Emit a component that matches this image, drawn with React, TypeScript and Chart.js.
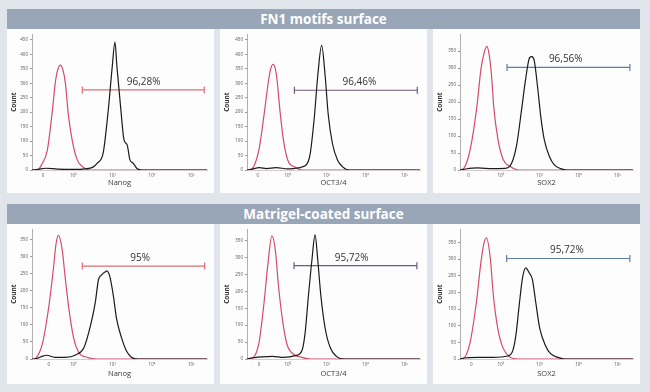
import React, { useEffect, useRef } from "react";
import { Chart, registerables } from "chart.js";
Chart.register(...registerables);

// ---- shared axis labels ----
const xTickLabels = ["0", "10²", "10³", "10⁴", "10⁵"];
const yTicksTall = [0, 50, 100, 150, 200, 250, 300, 350, 400, 450];
const yTicksShort = [0, 50, 100, 150, 200, 250, 300, 350];
const headerTitles = ["FN1 motifs surface", "Matrigel-coated surface"];
const markerNames = ["Nanog", "OCT3/4", "SOX2"];

// ---- FN1 motifs surface: Nanog ----
const fnNanogRedX = [0.95, 1.09, 1.2, 1.34, 1.47, 1.54, 1.6, 1.67, 1.74, 1.8, 1.87, 1.97, 2.1, 2.25, 2.43, 5.4];
const fnNanogRedY = [0, 0, 20, 69, 208, 300, 345, 363, 345, 300, 197, 104, 35, 10, 0, 0];
const fnNanogBlkX = [0.95, 1.1, 1.3, 1.6, 2.0, 2.3, 2.5, 2.61, 2.76, 2.89, 2.99, 3.06, 3.11, 3.21, 3.29, 3.37, 3.44, 3.52, 3.62, 3.75, 5.4];
const fnNanogBlkY = [0, 2, 6, 3, 2, 4, 10, 24, 59, 208, 357, 443, 357, 208, 104, 87, 35, 24, 5, 0, 0];
const fnNanogGate = [2.23, 5.33, 277, 3.79];

// ---- FN1 motifs surface: OCT3/4 ----
const fnOctRedX = [0.95, 1.02, 1.15, 1.27, 1.4, 1.51, 1.57, 1.62, 1.67, 1.72, 1.8, 1.89, 2.0, 2.17, 2.38, 5.4];
const fnOctRedY = [0, 0, 20, 79, 203, 315, 355, 366, 355, 315, 203, 101, 34, 11, 0, 0];
const fnOctBlkX = [0.95, 1.05, 1.27, 1.45, 1.7, 2.0, 2.2, 2.38, 2.56, 2.68, 2.77, 2.87, 2.96, 3.04, 3.15, 3.28, 3.41, 3.58, 5.4];
const fnOctBlkY = [0, 2, 8, 5, 8, 4, 6, 11, 45, 180, 326, 431, 326, 191, 90, 34, 11, 0, 0];
const fnOctGate = [2.17, 5.33, 276, 3.84];

// ---- FN1 motifs surface: SOX2 ----
const fnSoxRedX = [0.95, 1.05, 1.21, 1.38, 1.49, 1.57, 1.64, 1.7, 1.76, 1.82, 1.93, 2.06, 2.23, 2.48, 5.4];
const fnSoxRedY = [0, 5, 59, 183, 298, 345, 364, 340, 280, 183, 88, 31, 11, 0, 0];
const fnSoxBlkX = [0.95, 1.1, 1.4, 1.8, 2.1, 2.23, 2.4, 2.53, 2.64, 2.74, 2.8, 2.86, 2.95, 3.03, 3.12, 3.25, 3.37, 3.54, 3.7, 5.4];
const fnSoxBlkY = [0, 3, 6, 4, 5, 11, 69, 174, 269, 331, 334, 322, 240, 155, 88, 40, 16, 4, 0, 0];
const fnSoxGate = [2.16, 5.32, 302, 3.67];

// ---- Matrigel-coated surface: Nanog ----
const mgNanogRedX = [0.95, 0.98, 1.21, 1.38, 1.49, 1.56, 1.62, 1.71, 1.8, 1.9, 2.01, 2.14, 2.35, 2.6, 5.4];
const mgNanogRedY = [0, 0, 43, 156, 260, 336, 362, 326, 232, 137, 61, 19, 5, 0, 0];
const mgNanogBlkX = [0.95, 1.0, 1.24, 1.32, 1.53, 1.8, 2.06, 2.27, 2.44, 2.56, 2.64, 2.72, 2.81, 2.85, 2.93, 3.02, 3.1, 3.23, 3.35, 3.48, 3.65, 5.4];
const mgNanogBlkY = [0, 0, 9, 11, 5, 5, 12, 33, 99, 166, 232, 246, 255, 258, 241, 184, 118, 61, 24, 5, 0, 0];
const mgNanogGate = [2.23, 5.34, 272, 3.7];

// ---- Matrigel-coated surface: OCT3/4 ----
const mgOctRedX = [0.95, 1.0, 1.25, 1.38, 1.49, 1.59, 1.68, 1.76, 1.87, 1.98, 2.15, 2.36, 2.6, 5.4];
const mgOctRedY = [0, 0, 43, 158, 283, 364, 321, 216, 110, 43, 14, 5, 0, 0];
const mgOctBlkX = [0.95, 1.05, 1.3, 1.6, 1.9, 2.19, 2.36, 2.44, 2.53, 2.62, 2.7, 2.77, 2.85, 2.96, 3.09, 3.26, 3.45, 5.4];
const mgOctBlkY = [0, 3, 6, 8, 5, 10, 24, 72, 187, 293, 367, 293, 187, 91, 34, 7, 0, 0];
const mgOctGate = [2.16, 5.32, 276, 3.64];

// ---- Matrigel-coated surface: SOX2 ----
const mgSoxRedX = [0.95, 1.0, 1.2, 1.37, 1.48, 1.56, 1.63, 1.73, 1.81, 1.92, 2.05, 2.22, 2.45, 5.4];
const mgSoxRedY = [0, 0, 45, 169, 283, 345, 364, 302, 188, 93, 35, 7, 0, 0];
const mgSoxBlkX = [0.95, 1.05, 1.4, 1.8, 2.18, 2.31, 2.39, 2.47, 2.56, 2.64, 2.73, 2.81, 2.9, 3.0, 3.15, 3.28, 3.49, 3.65, 5.4];
const mgSoxBlkY = [0, 3, 5, 5, 9, 26, 73, 159, 245, 274, 259, 240, 169, 93, 40, 16, 4, 0, 0];
const mgSoxGate = [2.15, 5.32, 302, 3.7];

const gateLabels = ["96,28%", "96,46%", "96,56%", "95%", "95,72%", "95,72%"];
const zeroTickPos = [1.23, 1.23, 1.17, 1.38, 1.26, 1.24];
const yMaxes = [470, 470, 400, 380, 384, 390];
const gateColors = ["#dc6e74", "#6c5a80", "#5e7ea6"];

const RED = "#d44c68";
const BLACK = "#1b1b1b";
const FONT = "'Open Sans', 'Noto Sans', sans-serif";

type PanelDef = {
  redX: number[]; redY: number[]; blkX: number[]; blkY: number[];
  gate: number[]; label: string; zero: number; yMax: number; yTicks: number[];
  marker: string; gateColor: string;
};

const panels: PanelDef[][] = [
  [
    { redX: fnNanogRedX, redY: fnNanogRedY, blkX: fnNanogBlkX, blkY: fnNanogBlkY, gate: fnNanogGate, label: gateLabels[0], zero: zeroTickPos[0], yMax: yMaxes[0], yTicks: yTicksTall, marker: markerNames[0], gateColor: gateColors[0] },
    { redX: fnOctRedX, redY: fnOctRedY, blkX: fnOctBlkX, blkY: fnOctBlkY, gate: fnOctGate, label: gateLabels[1], zero: zeroTickPos[1], yMax: yMaxes[1], yTicks: yTicksTall, marker: markerNames[1], gateColor: gateColors[1] },
    { redX: fnSoxRedX, redY: fnSoxRedY, blkX: fnSoxBlkX, blkY: fnSoxBlkY, gate: fnSoxGate, label: gateLabels[2], zero: zeroTickPos[2], yMax: yMaxes[2], yTicks: yTicksShort, marker: markerNames[2], gateColor: gateColors[2] },
  ],
  [
    { redX: mgNanogRedX, redY: mgNanogRedY, blkX: mgNanogBlkX, blkY: mgNanogBlkY, gate: mgNanogGate, label: gateLabels[3], zero: zeroTickPos[3], yMax: yMaxes[3], yTicks: yTicksShort, marker: markerNames[0], gateColor: gateColors[0] },
    { redX: mgOctRedX, redY: mgOctRedY, blkX: mgOctBlkX, blkY: mgOctBlkY, gate: mgOctGate, label: gateLabels[4], zero: zeroTickPos[4], yMax: yMaxes[4], yTicks: yTicksShort, marker: markerNames[1], gateColor: gateColors[1] },
    { redX: mgSoxRedX, redY: mgSoxRedY, blkX: mgSoxBlkX, blkY: mgSoxBlkY, gate: mgSoxGate, label: gateLabels[5], zero: zeroTickPos[5], yMax: yMaxes[5], yTicks: yTicksShort, marker: markerNames[2], gateColor: gateColors[2] },
  ],
];

const zip = (xs: number[], ys: number[]) => xs.map((x, i) => ({ x, y: ys[i] }));

function HistPanel({ def, w, h, left, bottomAxisH, padBottom }: { def: PanelDef; w: number; h: number; left: number; bottomAxisH: number; padBottom: number }) {
  const ref = useRef<HTMLCanvasElement>(null);
  useEffect(() => {
    const xTickVals = [def.zero, 2, 3, 4, 5];
    const gateLabelPlugin = {
      id: "gateLabel",
      afterDatasetsDraw(chart: any) {
        const ctx = chart.ctx;
        const xs = chart.scales.x;
        const ys = chart.scales.y;
        ctx.save();
        ctx.font = `10px ${FONT}`;
        ctx.fillStyle = "#333";
        ctx.textAlign = "center";
        ctx.textBaseline = "bottom";
        ctx.fillText(def.label, xs.getPixelForValue(def.gate[3]), ys.getPixelForValue(def.gate[2]) - 3);
        ctx.restore();
      },
    };
    const chart = new Chart(ref.current!, {
      type: "line",
      data: {
        datasets: [
          { data: zip(def.blkX, def.blkY), borderColor: BLACK, borderWidth: 1.2, pointRadius: 0, cubicInterpolationMode: "monotone", fill: false },
          { data: zip(def.redX, def.redY), borderColor: RED, borderWidth: 1.2, pointRadius: 0, cubicInterpolationMode: "monotone", fill: false },
          {
            data: [{ x: def.gate[0], y: def.gate[2] }, { x: def.gate[1], y: def.gate[2] }],
            borderColor: def.gateColor, borderWidth: 1.2, pointStyle: "line", rotation: 90,
            pointRadius: 3.5, pointBorderWidth: 1.2, pointBorderColor: def.gateColor, tension: 0,
          },
        ],
      } as any,
      options: {
        animation: false,
        responsive: false,
        events: [],
        layout: { padding: { left: 1, right: 7, top: 2, bottom: padBottom } },
        plugins: { legend: { display: false }, tooltip: { enabled: false } },
        scales: {
          x: {
            type: "linear", min: 0.95, max: 5.4,
            grid: { display: false, drawTicks: false },
            border: { display: true, color: "#d9c9cc", width: 1 },
            afterBuildTicks: (s: any) => { s.ticks = xTickVals.map((v) => ({ value: v })); },
            afterFit: (s: any) => { s.height = bottomAxisH; },
            ticks: {
              autoSkip: false, maxRotation: 0, padding: 3, color: "#555",
              font: { size: 4.5, family: FONT },
              callback: (_v: any, i: number) => xTickLabels[i],
            },
            title: { display: true, text: def.marker, color: "#3a3a3a", font: { size: 7.5, family: FONT }, padding: 0 },
          },
          y: {
            type: "linear", min: 0, max: def.yMax,
            grid: { display: true, drawOnChartArea: false, drawTicks: true, tickLength: 2, color: "#999" },
            border: { display: true, color: "#b0b0b0", dash: [1, 1.5] },
            afterBuildTicks: (s: any) => { s.ticks = def.yTicks.map((v) => ({ value: v })); },
            afterFit: (s: any) => { s.width = left - 1; },
            ticks: { padding: 2, color: "#555", font: { size: 4.5, family: FONT } },
            title: { display: true, text: "Count", color: "#333", font: { size: 6.5, weight: "bold", family: FONT }, padding: { top: 2, bottom: 0 } },
          },
        },
      } as any,
      plugins: [gateLabelPlugin],
    });
    return () => chart.destroy();
  }, []);
  return <canvas ref={ref} width={w} height={h} style={{ display: "block", width: w, height: h }} />;
}

const colLefts = [7, 220, 433];
const panelW = 207;
const chartLefts = [25, 27, 27];
const rowGeom = [
  { headerTop: 9, panelTop: 29, panelH: 164, axisH: 17.2, padB: 5.8 },
  { headerTop: 204, panelTop: 224, panelH: 160, axisH: 19.5, padB: 5.5 },
];

export default function App() {
  return (
    <div style={{ position: "fixed", left: 0, top: 0, width: 650, height: 392, background: "#dfe5eb", overflow: "hidden" }}>
      {rowGeom.map((r, ri) => (
        <React.Fragment key={ri}>
          <div
            style={{
              position: "absolute", left: 7, top: r.headerTop, width: 633, height: 20,
              background: "#98a6b7", color: "#fff", fontFamily: FONT, fontWeight: 700,
              fontSize: 13.5, lineHeight: "20px", textAlign: "center",
            }}
          >
            {headerTitles[ri]}
          </div>
          {panels[ri].map((p, ci) => (
            <div key={ci} style={{ position: "absolute", left: colLefts[ci], top: r.panelTop, width: panelW, height: r.panelH, background: "#fdfdfd" }}>
              <HistPanel def={p} w={panelW} h={r.panelH} left={chartLefts[ci]} bottomAxisH={r.axisH} padBottom={r.padB} />
            </div>
          ))}
        </React.Fragment>
      ))}
    </div>
  );
}
